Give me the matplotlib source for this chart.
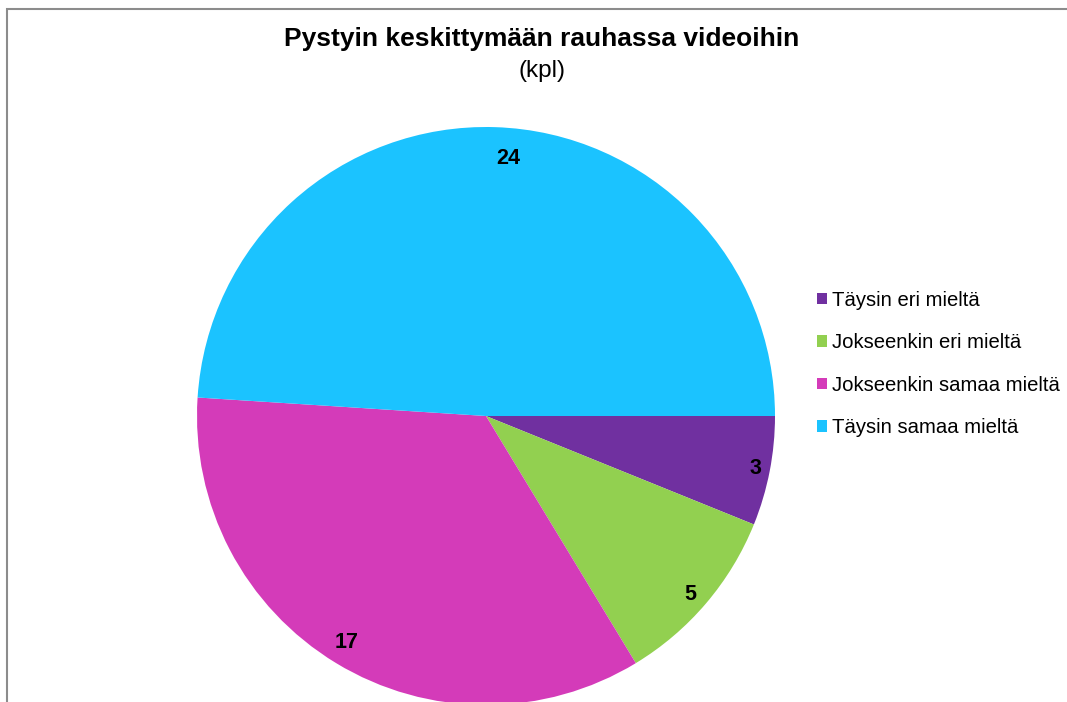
import numpy as np
import matplotlib.pyplot as plt
from matplotlib.patches import Rectangle, Patch

plt.rcParams['font.family'] = ['Liberation Sans', 'DejaVu Sans']

labels = ['Täysin eri mieltä', 'Jokseenkin eri mieltä',
          'Jokseenkin samaa mieltä', 'Täysin samaa mieltä']
values = [3, 5, 17, 24]
colors = ['#7030A0', '#92D050', '#D43BB9', '#1BC3FF']
total = sum(values)

W, H = 1067, 702
fig = plt.figure(figsize=(W / 100, H / 100), dpi=100)

# chart border (runs off right and bottom edges)
fig.add_artist(Rectangle((6.5 / W, -0.1), 1.2, 1 - 8.5 / H + 0.1,
                         transform=fig.transFigure, fill=False,
                         edgecolor='#8c8c8c', linewidth=1.5))

cx, cy, r = 486, 416, 289
ax = fig.add_axes([(cx - r) / W, (H - cy - r) / H, 2 * r / W, 2 * r / H])
wedges, texts, autotexts = ax.pie(values, colors=colors, startangle=0,
                                  counterclock=False, radius=1,
                                  pctdistance=0.93,
                                  autopct=lambda p: '%d' % round(p * total / 100),
                                  textprops={'fontsize': 15.5, 'fontweight': 'bold'})

# excel-like label placement: slightly different radius per slice
dists = [0.95, 0.94, 0.92, 0.895]
shifts = [0, -0.8, -0.5, -3]
for w, t, d, s in zip(wedges, autotexts, dists, shifts):
    ang = np.deg2rad((w.theta1 + w.theta2) / 2 + s)
    t.set_position((d * np.cos(ang), d * np.sin(ang)))

ax.set_xlim(-1, 1)
ax.set_ylim(-1, 1)
ax.set_aspect('equal')
ax.axis('off')

fig.text(542 / W, 1 - 39 / H, 'Pystyin keskittymään rauhassa videoihin',
         ha='center', va='center', fontsize=19, fontweight='bold')
fig.text(542 / W, 1 - 71 / H, '(kpl)', ha='center', va='center', fontsize=17.5)

handles = [Patch(facecolor=c, edgecolor='none') for c in colors]
fig.legend(handles, labels, loc='center left',
           bbox_to_anchor=(809 / W, 1 - 364 / H), frameon=False,
           fontsize=14.6, handlelength=0.5, handleheight=0.5,
           handletextpad=0.25, labelspacing=1.16, borderaxespad=0)

fig.savefig('out.png', dpi=100)
